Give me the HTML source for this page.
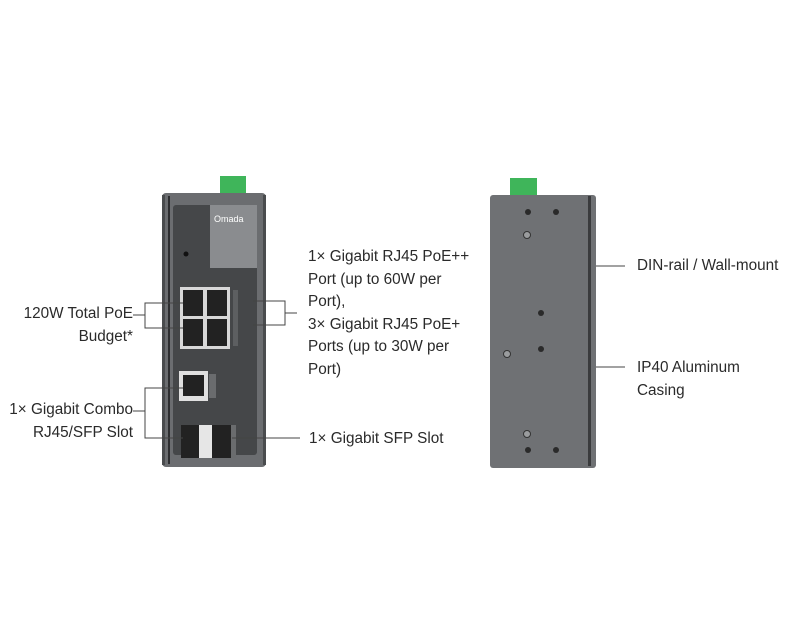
<!DOCTYPE html>
<html><head><style>
body{margin:0;width:800px;height:640px;background:#fff;position:relative;overflow:hidden;font-family:"Liberation Sans",sans-serif;}
.t{position:absolute;font-size:15.3px;color:#2a2a2a;line-height:22.5px;}
.a{position:absolute;}
</style></head><body>
<svg class="a" style="left:0;top:0" width="800" height="640">
<rect x="220" y="176" width="26" height="20" fill="#3fb55a"/>
<rect x="162" y="193" width="104" height="274" rx="4" fill="#6b6d70"/>
<g fill="#4a4c4e">
<rect x="162" y="195" width="3" height="270"/><rect x="263" y="195" width="3" height="270"/>
</g>
<rect x="168" y="196" width="2" height="268" fill="#2d2e30"/>
<rect x="173" y="205" width="84" height="250" rx="3" fill="#454749"/>
<rect x="210" y="205" width="47" height="63" fill="#8a8c8f"/>
<text x="214" y="222" font-size="9" fill="#fff" font-family="Liberation Sans">Omada</text>
<circle cx="186" cy="254" r="2.5" fill="#111"/>
<rect x="180" y="287" width="50" height="62" fill="#d8d8d8"/>
<g fill="#222"><rect x="183" y="290" width="20" height="26"/><rect x="207" y="290" width="20" height="26"/><rect x="183" y="319" width="20" height="27"/><rect x="207" y="319" width="20" height="27"/></g>
<rect x="233" y="290" width="5" height="56" fill="#5d5f61"/>
<rect x="179" y="371" width="29" height="30" fill="#e0e0e0"/>
<rect x="183" y="375" width="21" height="21" fill="#222"/>
<rect x="209" y="374" width="7" height="24" fill="#6a6c6e"/>
<rect x="181" y="425" width="50" height="33" fill="#222"/>
<rect x="199" y="425" width="13" height="33" fill="#e6e6e6"/>
<rect x="231" y="425" width="5" height="33" fill="#6a6c6e"/>
<rect x="510" y="178" width="27" height="20" fill="#3fb55a"/>
<rect x="490" y="195" width="106" height="273" rx="3" fill="#6f7174"/>
<rect x="588" y="196" width="3" height="270" fill="#3a3b3d"/>
<g fill="#2a2a2a">
<circle cx="528" cy="212" r="3"/><circle cx="556" cy="212" r="3"/>
<circle cx="541" cy="313" r="3"/><circle cx="541" cy="349" r="3"/>
<circle cx="528" cy="450" r="3"/><circle cx="556" cy="450" r="3"/>
</g>
<g fill="#9a9c9e" stroke="#333" stroke-width="1">
<circle cx="527" cy="235" r="3.5"/><circle cx="507" cy="354" r="3.5"/><circle cx="527" cy="434" r="3.5"/>
</g>
<g stroke="#444" stroke-width="1" fill="none">
<path d="M183 303H145V328H183M145 315H133"/>
<path d="M253 301H285V325H253M285 313H297"/>
<path d="M183 388H145V438H183M145 411H133"/>
<path d="M232 438H300"/>
<path d="M596 266H625"/>
<path d="M596 367H625"/>
</g>
</svg>
<div class="t" style="right:667px;top:303px;text-align:right">120W Total PoE<br>Budget*</div>
<div class="t" style="right:667px;top:399px;text-align:right">1× Gigabit Combo<br>RJ45/SFP Slot</div>
<div class="t" style="left:308px;top:246px">1× Gigabit RJ45 PoE++<br>Port (up to 60W per<br>Port),<br>3× Gigabit RJ45 PoE+<br>Ports (up to 30W per<br>Port)</div>
<div class="t" style="left:309px;top:428px">1× Gigabit SFP Slot</div>
<div class="t" style="left:637px;top:255px">DIN-rail / Wall-mount</div>
<div class="t" style="left:637px;top:357px">IP40 Aluminum<br>Casing</div>
</body></html>
